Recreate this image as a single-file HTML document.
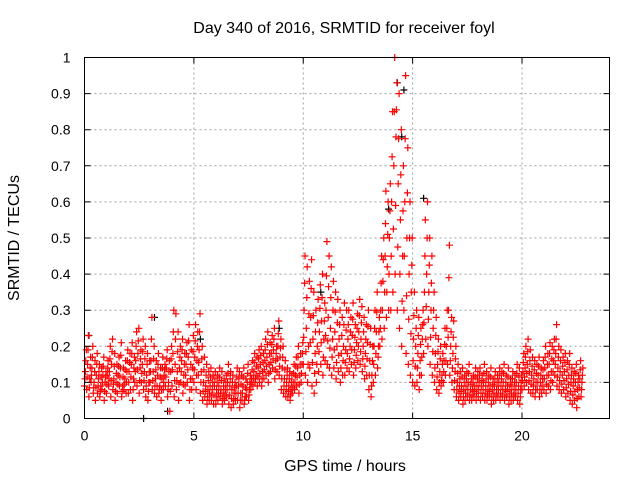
<!DOCTYPE html>
<html><head><meta charset="utf-8"><style>
body{margin:0;background:#fff}
svg{display:block;font-family:"Liberation Sans",sans-serif}
</style></head><body>
<svg id="chart" width="640" height="480" viewBox="0 0 640 480">
<rect width="640" height="480" fill="#fff"/>
<g id="grid"></g>
<g id="marks"></g>
<g id="axes"></g>
<text x="344" y="33" font-size="16" text-anchor="middle">Day 340 of 2016, SRMTID for receiver foyl</text>
<text x="345" y="471" font-size="16" text-anchor="middle">GPS time / hours</text>
<text transform="translate(19,238) rotate(-90)" font-size="16" text-anchor="middle">SRMTID / TECUs</text>
</svg>
<script>
const xTicks=[0,5,10,15,20];
const yTicks=[0,0.1,0.2,0.3,0.4,0.5,0.6,0.7,0.8,0.9,1];
const yTickLabels=["0","0.1","0.2","0.3","0.4","0.5","0.6","0.7","0.8","0.9","1"];
const slotStep=0.1;
const hiVals=[.19,.23,.17,.2,.16,.18,.15,.14,.17,.13,
.16,.2,.22,.18,.15,.17,.21,.14,.16,.19,
.18,.21,.17,.24,.25,.19,.22,.2,.18,.16,
.28,.2,.16,.18,.14,.17,.15,.19,.16,.2,
.3,.29,.24,.2,.22,.18,.21,.26,.19,.23,
.26,.24,.29,.2,.17,.15,.13,.14,.12,.13,
.12,.14,.13,.11,.12,.15,.13,.12,.1,.14,
.13,.12,.14,.11,.15,.12,.16,.18,.17,.19,
.2,.18,.22,.24,.21,.23,.25,.2,.27,.22,
.2,.16,.14,.13,.12,.15,.17,.2,.18,.21,
.45,.42,.38,.44,.35,.3,.33,.37,.4,.32,
.49,.45,.42,.38,.35,.33,.3,.28,.32,.3,
.3,.28,.32,.26,.29,.33,.31,.28,.26,.3,
.25,.2,.3,.35,.28,.45,.5,.63,.6,.65,
.85,1.0,.93,.9,.8,.7,.95,.75,.6,.5,
.35,.3,.28,.25,.3,.55,.6,.5,.45,.35,
.28,.22,.2,.18,.25,.3,.48,.28,.27,.2,
.15,.13,.14,.12,.13,.15,.11,.12,.14,.13,
.14,.12,.15,.13,.12,.14,.11,.13,.12,.14,
.13,.15,.12,.14,.11,.13,.12,.15,.14,.12,
.18,.2,.22,.19,.17,.16,.15,.17,.14,.16,
.2,.18,.21,.2,.22,.26,.2,.19,.17,.18,
.16,.18,.14,.13,.15,.12,.16,.14];
const midVals=[.13,.15,.11,.14,.1,.12,.11,.09,.12,.1,
.12,.13,.15,.11,.1,.12,.14,.09,.11,.13,
.13,.15,.11,.16,.18,.14,.15,.13,.12,.1,
.16,.13,.11,.12,.09,.11,.12,.14,.1,.13,
.18,.15,.13,.14,.16,.12,.15,.17,.11,.14,
.17,.16,.19,.13,.1,.09,.08,.09,.08,.09,
.08,.09,.08,.07,.08,.1,.09,.08,.07,.09,
.09,.07,.09,.06,.1,.08,.11,.13,.12,.14,
.15,.13,.16,.17,.15,.18,.19,.16,.2,.17,
.14,.11,.1,.09,.08,.1,.12,.14,.12,.15,
.3,.25,.2,.28,.22,.18,.2,.24,.27,.22,
.3,.28,.25,.22,.24,.2,.22,.18,.2,.19,
.22,.2,.23,.19,.21,.24,.22,.2,.18,.21,
.16,.12,.2,.24,.2,.3,.38,.45,.42,.5,
.6,.7,.78,.65,.55,.45,.6,.5,.4,.35,
.22,.2,.18,.16,.22,.35,.4,.35,.3,.25,
.18,.15,.13,.12,.16,.2,.3,.2,.18,.13,
.1,.09,.09,.08,.09,.1,.08,.08,.09,.09,
.1,.09,.1,.09,.08,.09,.08,.09,.08,.1,
.09,.1,.08,.09,.08,.09,.08,.1,.09,.08,
.13,.14,.15,.13,.12,.11,.1,.12,.1,.11,
.14,.12,.15,.13,.16,.18,.14,.13,.12,.13,
.11,.12,.1,.09,.1,.08,.11,.1];
const loVals=[.09,.08,.06,.1,.07,.05,.07,.06,.08,.05,
.07,.09,.06,.08,.05,.07,.09,.06,.08,.07,
.07,.08,.05,.1,.09,.07,.1,.08,.06,.05,
.1,.08,.07,.06,.07,.05,.08,.09,.06,.02,
.09,.06,.08,.05,.1,.07,.09,.1,.05,.08,
.1,.08,.12,.07,.05,.06,.04,.05,.05,.04,
.04,.05,.06,.04,.05,.06,.04,.03,.04,.05,
.05,.03,.05,.04,.06,.05,.08,.09,.1,.09,
.1,.09,.11,.12,.1,.13,.14,.11,.13,.12,
.08,.07,.06,.06,.05,.07,.08,.09,.07,.1,
.15,.12,.1,.14,.09,.07,.1,.13,.15,.12,
.16,.15,.14,.12,.14,.11,.13,.1,.12,.12,
.14,.13,.15,.12,.14,.16,.15,.13,.11,.12,
.08,.06,.1,.12,.14,.2,.22,.25,.28,.3,
.3,.35,.4,.3,.25,.2,.3,.18,.15,.12,
.1,.09,.1,.08,.12,.18,.22,.2,.15,.12,
.1,.08,.07,.09,.1,.12,.15,.12,.1,.08,
.06,.05,.06,.04,.05,.06,.05,.05,.06,.05,
.06,.05,.06,.05,.05,.06,.04,.05,.05,.06,
.05,.06,.05,.06,.04,.05,.05,.06,.05,.04,
.08,.09,.1,.08,.07,.07,.06,.08,.06,.07,
.08,.07,.09,.08,.1,.12,.09,.08,.07,.08,
.06,.07,.05,.04,.05,.03,.06,.06];
const blackTimes=[0.2,2.7,3.8,3.2,14.3,14.5,14.6,15.5,10.8,13.9,5.3,8.9];
const blackVals=[0.23,0.0,0.02,0.28,0.93,0.78,0.91,0.61,0.35,0.58,0.22,0.25];

const L=84.5,R=609.5,T=57.5,B=418.5,XMAX=24;
const sx=v=>L+v/XMAX*(R-L);
const sy=v=>B-v*(B-T);
const NS="http://www.w3.org/2000/svg";
function mk(tag,parent,attrs){const e=document.createElementNS(NS,tag);for(const k in attrs)e.setAttribute(k,attrs[k]);parent.appendChild(e);return e;}
const grid=document.getElementById('grid'),axes=document.getElementById('axes'),marks=document.getElementById('marks');
yTicks.forEach((v,i)=>{
  if(i>0&&i<yTicks.length-1){const g=mk('line',grid,{x1:L,x2:R,y1:sy(v),y2:sy(v),stroke:'#a0a0a0','stroke-dasharray':'2,3'});
  
  }
  const t=mk('path',axes,{d:`M${L},${sy(v)}h6M${R},${sy(v)}h-6`,stroke:'#000'});
  
  
  const lb=mk('text',axes,{x:L-14,y:sy(v)+5,'font-size':14,'text-anchor':'end'});lb.textContent=yTickLabels[i];
  
  
});
xTicks.forEach(v=>{
  if(v>0){const g=mk('line',grid,{x1:sx(v),x2:sx(v),y1:T,y2:B,stroke:'#a0a0a0','stroke-dasharray':'2,3'});
  
  }
  const t=mk('path',axes,{d:`M${sx(v)},${B}v-6M${sx(v)},${T}v6`,stroke:'#000'});
  
  
  const lb=mk('text',axes,{x:sx(v),y:B+22,'font-size':14,'text-anchor':'middle'});lb.textContent=String(v);
  
  
});
const frame=mk('rect',axes,{x:L,y:T,width:R-L,height:B-T,fill:'none',stroke:'#000'});


function plus(t,v,color){
  const x=sx(t),y=sy(v);
  const p=mk('path',marks,{d:`M${(x-3.5).toFixed(1)},${y.toFixed(1)}h7M${x.toFixed(1)},${(y-3.5).toFixed(1)}v7`,stroke:color,'stroke-width':1.2});
  
  
}
blackTimes.forEach((t,i)=>plus(t,blackVals[i],'#000'));
hiVals.forEach((h,i)=>{
  const t=i*slotStep,m=midVals[i],l=loVals[i];
  plus(t,l,'#f00');
  plus(t+0.02,(l+m)/2,'#f00');
  plus(t+0.04,m,'#f00');
  plus(t+0.06,(m+h)/2,'#f00');
  plus(t+0.08,h,'#f00');
});
</script>
</body></html>
